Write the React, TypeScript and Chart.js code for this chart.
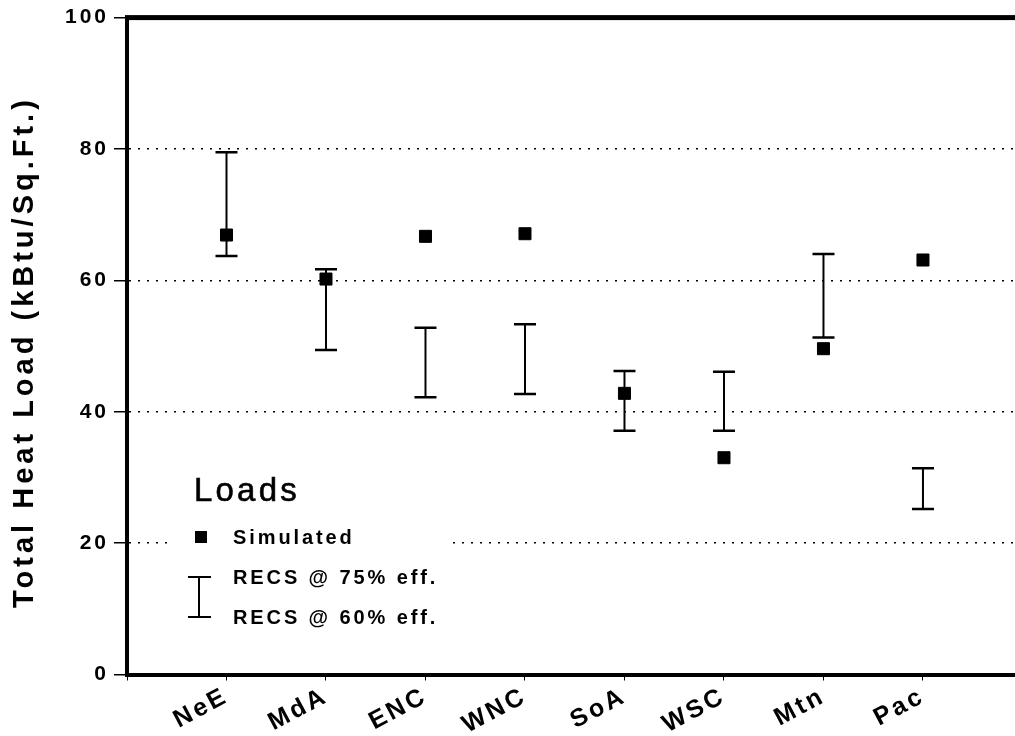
import React, { useEffect, useRef } from 'react';
import { Chart, registerables } from 'chart.js';

Chart.register(...registerables);

// ---- data ----
const categories = ['NeE', 'MdA', 'ENC', 'WNC', 'SoA', 'WSC', 'Mtn', 'Pac'];
const simulated = [66.9, 60.2, 66.7, 67.1, 42.8, 33.0, 49.6, 63.1];
const recs75 = [79.5, 61.7, 52.8, 53.3, 46.2, 46.1, 64.0, 31.4]; // upper end of RECS range
const recs60 = [63.7, 49.4, 42.2, 42.7, 37.1, 37.1, 51.3, 25.2]; // lower end of RECS range
const yMin = 0;
const yMax = 100;
const yStep = 20;
const yTitle = 'Total Heat Load (kBtu/Sq.Ft.)';
const legendTitle = 'Loads';
const legendLabels = ['Simulated', 'RECS @ 75% eff.', 'RECS @ 60% eff.'];

const FONT = "'Liberation Sans', Arial, Helvetica, sans-serif";

const spacingPlugin = {
  id: 'spacing',
  beforeDraw(chart: any) {
    chart.ctx.letterSpacing = '3px';
  },
};

const errorBarPlugin = {
  id: 'errorBars',
  beforeDatasetsDraw(chart: any) {
    const { ctx, scales } = chart;
    const x = scales.x;
    const y = scales.y;
    ctx.save();
    ctx.strokeStyle = '#000';
    categories.forEach((_, i) => {
      const px = x.getPixelForValue(i + 1);
      const top = y.getPixelForValue(recs75[i]);
      const bot = y.getPixelForValue(recs60[i]);
      ctx.lineWidth = 2;
      ctx.beginPath();
      ctx.moveTo(px, top);
      ctx.lineTo(px, bot);
      ctx.stroke();
      ctx.lineWidth = 2.5;
      ctx.beginPath();
      ctx.moveTo(px - 11, top);
      ctx.lineTo(px + 11, top);
      ctx.moveTo(px - 11, bot);
      ctx.lineTo(px + 11, bot);
      ctx.stroke();
    });
    ctx.restore();
  },
};

const decorPlugin = {
  id: 'decor',
  afterDraw(chart: any) {
    const { ctx, chartArea } = chart;
    const { left, right, top, bottom } = chartArea;
    ctx.save();
    // top frame line
    ctx.fillStyle = '#000';
    ctx.fillRect(left - 2, top - 2.5, right - left + 2, 5);

    // y axis title
    ctx.save();
    ctx.translate(25, (top + bottom) / 2 + 6);
    ctx.rotate(-Math.PI / 2);
    ctx.font = `bold 29px ${FONT}`;
    (ctx as any).letterSpacing = '4px';
    ctx.textAlign = 'center';
    ctx.textBaseline = 'middle';
    ctx.fillStyle = '#000';
    ctx.fillText(yTitle, 0, 0);
    ctx.restore();

    // legend box (white background interrupts gridline)
    ctx.fillStyle = '#fff';
    ctx.fillRect(170, 468, 278, 160);
    ctx.fillStyle = '#000';
    ctx.textAlign = 'left';
    ctx.textBaseline = 'alphabetic';
    ctx.font = `33px ${FONT}`;
    (ctx as any).letterSpacing = '3.2px';
    ctx.fillText(legendTitle, 194, 501);
    ctx.lineWidth = 0.6;
    ctx.strokeStyle = '#000';
    ctx.strokeText(legendTitle, 194, 501);

    ctx.font = `bold 20px ${FONT}`;
    (ctx as any).letterSpacing = '2.9px';
    ctx.textBaseline = 'middle';
    // square marker
    ctx.fillRect(195, 531, 12, 12);
    ctx.fillText(legendLabels[0], 233, 538);
    // I-beam
    ctx.lineWidth = 2;
    ctx.beginPath();
    ctx.moveTo(199, 577);
    ctx.lineTo(199, 617);
    ctx.moveTo(188, 577);
    ctx.lineTo(211, 577);
    ctx.moveTo(188, 617);
    ctx.lineTo(211, 617);
    ctx.stroke();
    ctx.fillText(legendLabels[1], 233, 578);
    ctx.fillText(legendLabels[2], 233, 618);
    ctx.restore();
  },
};

export default function App() {
  const canvasRef = useRef<HTMLCanvasElement | null>(null);

  useEffect(() => {
    if (!canvasRef.current) return;
    const chart = new Chart(canvasRef.current, {
      type: 'line',
      data: {
        datasets: [
          {
            label: legendLabels[0],
            data: categories.map((_, i) => ({ x: i + 1, y: simulated[i] })),
            showLine: false,
            pointStyle: 'rect',
            pointRadius: 8.5,
            backgroundColor: '#000',
            borderColor: '#000',
            borderWidth: 1,
          },
        ],
      },
      options: {
        animation: false,
        responsive: true,
        maintainAspectRatio: false,
        events: [],
        layout: { autoPadding: false, padding: { top: 16, left: 0, right: 0, bottom: 0 } },
        plugins: {
          legend: { display: false },
          tooltip: { enabled: false },
        },
        scales: {
          x: {
            type: 'linear',
            min: 0,
            max: 8.925,
            afterFit: (scale: any) => {
              scale.height = 61.5;
              scale.paddingRight = 0;
              scale.paddingLeft = 0;
            },
            ticks: {
              stepSize: 1,
              autoSkip: false,
              includeBounds: false,
              maxRotation: 28,
              minRotation: 28,
              padding: 1,
              color: '#000',
              font: { family: FONT, size: 25, weight: 'bold' },
              callback: (value: any) => {
                const v = Number(value);
                return Number.isInteger(v) && v >= 1 && v <= categories.length ? categories[v - 1] : '';
              },
            },
            grid: {
              drawOnChartArea: false,
              drawTicks: true,
              tickLength: 6,
              tickColor: '#000',
              tickWidth: 1,
            },
            border: { display: true, color: '#000', width: 4 },
          },
          y: {
            type: 'linear',
            min: yMin,
            max: yMax,
            afterFit: (scale: any) => {
              scale.width = 127;
            },
            ticks: {
              stepSize: yStep,
              padding: 5,
              color: '#000',
              font: { family: FONT, size: 21, weight: 'bold' },
            },
            grid: {
              color: '#000',
              lineWidth: 1.5,
              drawTicks: true,
              tickLength: 13,
              tickColor: '#000',
              tickWidth: 1.5,
              tickBorderDash: [],
            },
            border: { display: true, color: '#000', width: 4, dash: [2, 7] },
          },
        },
      },
      plugins: [spacingPlugin, errorBarPlugin, decorPlugin],
    } as any);
    return () => chart.destroy();
  }, []);

  return (
    <div style={{ position: 'fixed', left: 0, top: 0, width: 1015, height: 736, background: '#fff' }}>
      <canvas ref={canvasRef} />
    </div>
  );
}
